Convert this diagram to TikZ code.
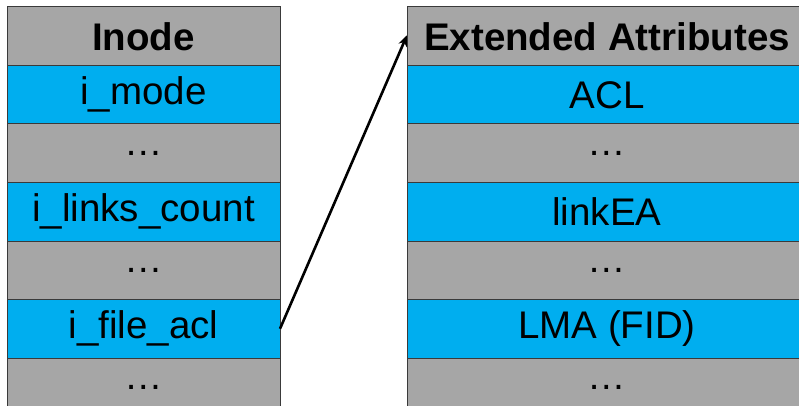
\documentclass[tikz,border=0pt]{standalone}
\usepackage{fontspec}
\setmainfont{Liberation Sans}
\usetikzlibrary{arrows.meta,positioning}

\definecolor{cellgray}{HTML}{A6A6A6}
\definecolor{cellblue}{HTML}{00AEEF}
\definecolor{cellline}{HTML}{3A3A3A}

\tikzset{
  cell/.style={draw=cellline, line width=1pt, minimum height=58.5pt,
    inner sep=0pt, outer sep=0pt, anchor=north west,
    font=\fontsize{38.5}{40}\selectfont},
  graycell/.style={cell, fill=cellgray},
  bluecell/.style={cell, fill=cellblue},
  headcell/.style={graycell, font=\fontsize{38.5}{40}\selectfont\bfseries},
  leftcol/.style={minimum width=273pt},
  rightcol/.style={minimum width=400pt},
  link/.style={line width=2.6pt, -{Stealth[length=11pt,width=9pt]}}
}

\begin{document}
\begin{tikzpicture}[x=1pt,y=-1pt]
  \useasboundingbox (0,0) rectangle (799,406);
  \clip (0,0) rectangle (799,406);

  % inode table
  \node[headcell,leftcol] (inode)  at (7,7)     {Inode};
  \node[bluecell,leftcol] (imode)  at (7,65.5)  {i\_mode};
  \node[graycell,leftcol] (ldotsa) at (7,124)   {…};
  \node[bluecell,leftcol] (ilinks) at (7,182.5) {i\_links\_count};
  \node[graycell,leftcol] (ldotsb) at (7,241)   {…};
  \node[bluecell,leftcol] (iacl)   at (7,299.5) {i\_file\_acl};
  \node[graycell,leftcol] (ldotsc) at (7,358)   {…};

  % extended attributes table
  \node[headcell,rightcol] (xattr)  at (407,7)     {Extended Attributes};
  \node[bluecell,rightcol] (acl)    at (407,65.5)  {ACL};
  \node[graycell,rightcol] (rdotsa) at (407,124)   {…};
  \node[bluecell,rightcol] (linkea) at (407,182.5) {linkEA};
  \node[graycell,rightcol] (rdotsb) at (407,241)   {…};
  \node[bluecell,rightcol] (lma)    at (407,299.5) {LMA (FID)};
  \node[graycell,rightcol] (rdotsc) at (407,358)   {…};

  % i_file_acl points to the extended attributes block
  \draw[link] (iacl.east) -- ([yshift=1pt]xattr.west);
\end{tikzpicture}
\end{document}
